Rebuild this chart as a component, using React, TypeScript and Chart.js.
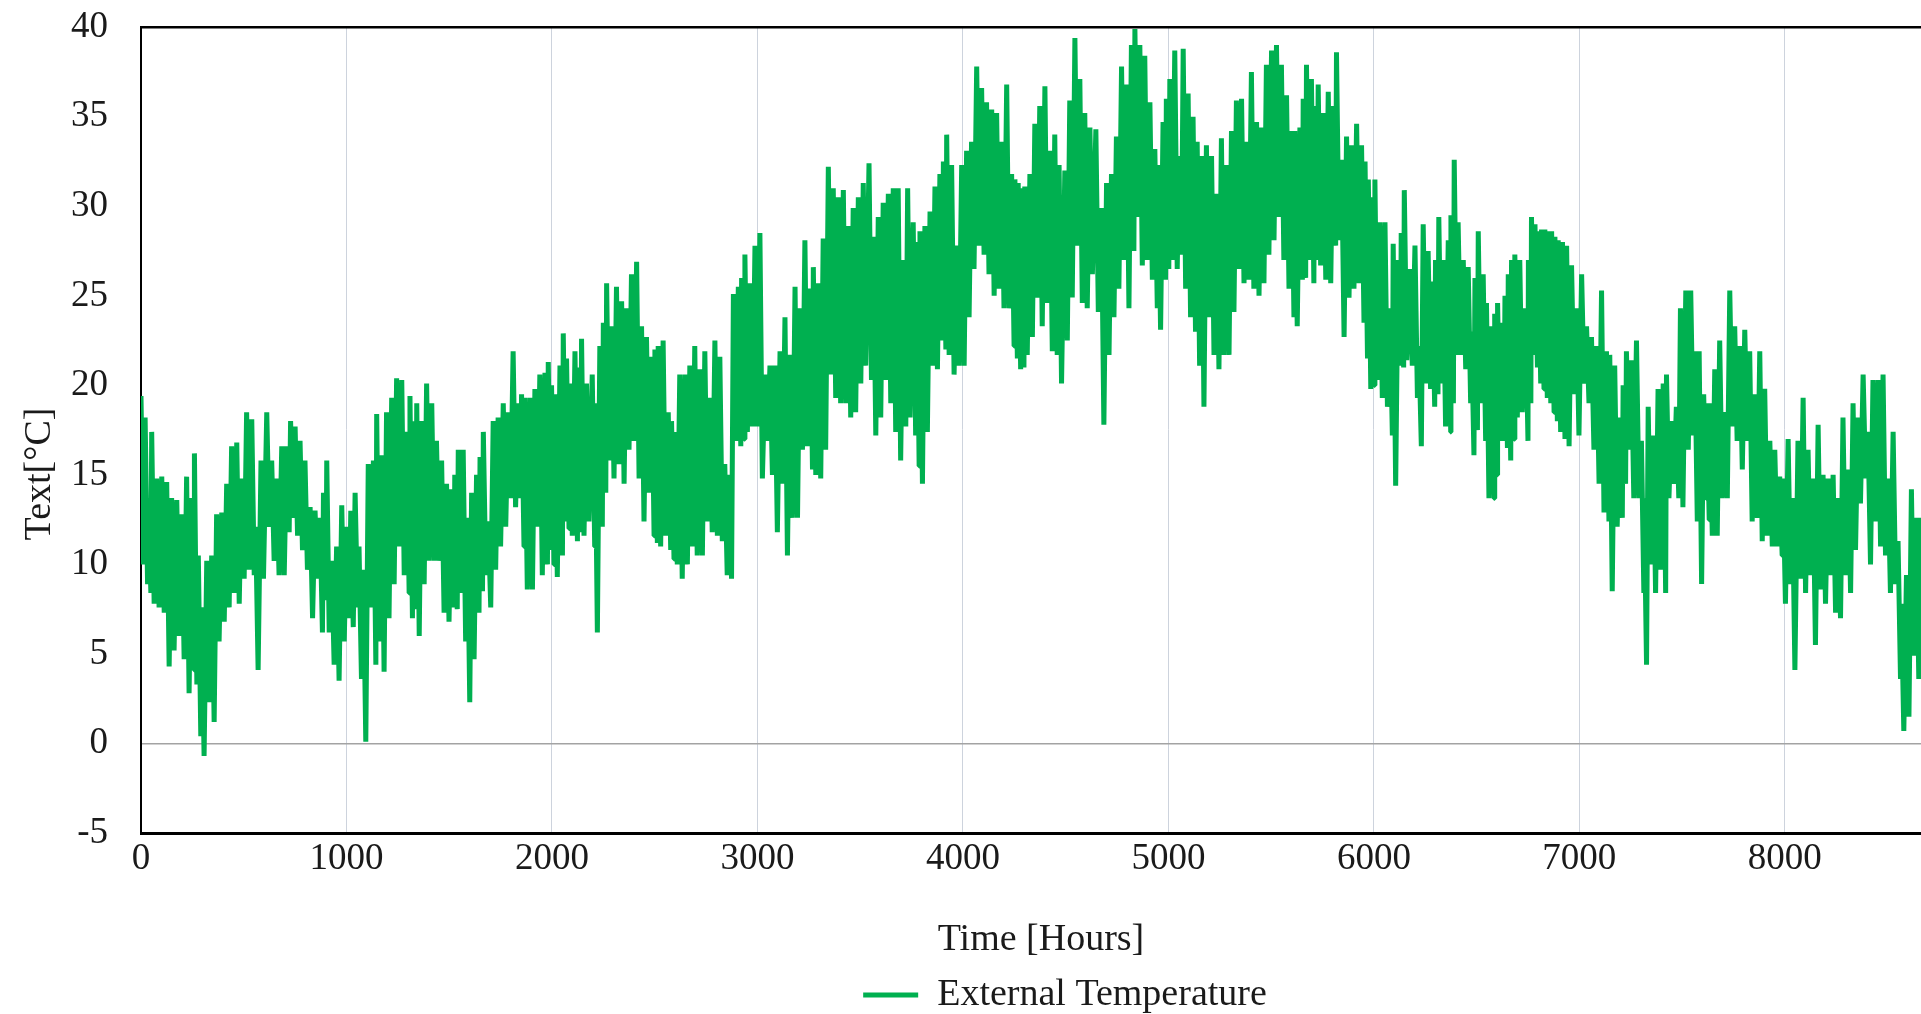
import React, { useEffect, useRef } from 'react';
import { Chart, registerables } from 'chart.js';

Chart.register(...registerables);

const hours = [
  0, 20, 36, 52, 76, 101, 125, 149, 174, 198, 222, 247, 260, 279, 295, 320, 344, 368, 393, 417,
  441, 466, 490, 514, 539, 558, 584, 612, 636, 660, 685, 709, 728, 750, 774, 798, 823, 847, 871, 888,
  904, 928, 952, 977, 1001, 1021, 1042, 1061, 1082, 1106, 1131, 1147, 1171, 1195, 1220, 1244, 1269, 1293, 1309, 1325,
  1342, 1366, 1390, 1415, 1438, 1463, 1487, 1511, 1527, 1544, 1568, 1588, 1609, 1633, 1650, 1666, 1690, 1714, 1738, 1763,
  1787, 1811, 1836, 1852, 1868, 1893, 1917, 1941, 1966, 1982, 1998, 2014, 2039, 2055, 2071, 2087, 2112, 2128, 2144, 2168,
  2196, 2209, 2233, 2250, 2266, 2290, 2314, 2339, 2363, 2387, 2412, 2436, 2460, 2485, 2501, 2517, 2541, 2566, 2582, 2598,
  2622, 2647, 2671, 2695, 2720, 2744, 2768, 2793, 2817, 2841, 2862, 2883, 2907, 2923, 2939, 2964, 2988, 3012, 3037, 3061,
  3085, 3110, 3134, 3158, 3183, 3207, 3231, 3256, 3272, 3296, 3320, 3345, 3369, 3393, 3418, 3442, 3466, 3491, 3515, 3543,
  3564, 3588, 3612, 3637, 3661, 3685, 3710, 3731, 3758, 3775, 3791, 3815, 3840, 3864, 3888, 3905, 3921, 3945, 3969, 3994,
  4018, 4042, 4067, 4091, 4115, 4140, 4164, 4188, 4213, 4237, 4253, 4269, 4285, 4301, 4326, 4350, 4374, 4399, 4423, 4447,
  4468, 4496, 4520, 4545, 4569, 4593, 4618, 4647, 4674, 4699, 4723, 4747, 4772, 4796, 4820, 4837, 4861, 4885, 4910, 4934,
  4950, 4974, 4990, 5007, 5031, 5052, 5072, 5096, 5120, 5140, 5161, 5185, 5210, 5234, 5258, 5283, 5307, 5331, 5356, 5380,
  5404, 5429, 5453, 5477, 5502, 5526, 5550, 5575, 5599, 5615, 5640, 5656, 5672, 5696, 5712, 5729, 5754, 5778, 5802, 5818,
  5843, 5867, 5891, 5916, 5940, 5957, 5973, 5989, 6005, 6029, 6054, 6078, 6094, 6118, 6133, 6148, 6175, 6200, 6219, 6240,
  6264, 6284, 6300, 6316, 6337, 6362, 6375, 6391, 6410, 6435, 6459, 6475, 6492, 6508, 6532, 6548, 6573, 6588, 6602, 6621,
  6638, 6654, 6670, 6686, 6710, 6738, 6752, 6767, 6784, 6800, 6816, 6832, 6849, 6865, 6881, 6897, 6918, 6938, 6962, 6986,
  7011, 7035, 7059, 7084, 7108, 7132, 7148, 7172, 7197, 7213, 7229, 7253, 7278, 7302, 7315, 7335, 7359, 7383, 7408, 7424,
  7448, 7472, 7492, 7518, 7542, 7562, 7583, 7605, 7620, 7635, 7659, 7683, 7708, 7732, 7756, 7781, 7805, 7829, 7854, 7878,
  7902, 7927, 7951, 7975, 7991, 8016, 8037, 8064, 8089, 8113, 8137, 8162, 8186, 8210, 8235, 8259, 8283, 8308, 8332, 8356,
  8381, 8405, 8429, 8454, 8478, 8502, 8527, 8551, 8567, 8592, 8616, 8640, 8661,
];

// Daily peak temperature at each sample [°C]
const highs = [
  19.4, 18.2, 13.7, 17.4, 14.8, 14.9, 14.6, 13.7, 13.6, 12.8, 14.9, 13.7, 16.2, 10.5, 7.6, 10.2, 10.5, 12.8, 12.9, 14.5,
  16.6, 16.8, 14.8, 18.5, 18.1, 12.1, 15.8, 18.5, 15.8, 14.8, 16.6, 16.6, 18.0, 17.7, 16.9, 15.8, 13.2, 13.0, 12.6, 14.0,
  15.8, 10.2, 11.0, 13.3, 12.1, 13.0, 14.0, 11.0, 9.7, 15.6, 15.8, 18.4, 16.1, 18.5, 19.3, 20.4, 20.3, 17.4, 19.4, 18.0,
  19.0, 18.0, 20.1, 19.0, 16.9, 15.8, 14.5, 14.2, 15.0, 16.4, 16.4, 12.6, 14.0, 15.0, 16.0, 17.4, 12.4, 18.0, 18.2, 19.0,
  18.5, 21.9, 19.0, 19.5, 19.3, 19.3, 19.8, 20.6, 20.7, 21.3, 20.0, 19.5, 21.1, 22.9, 21.5, 20.1, 21.9, 21.0, 22.6, 20.1,
  20.6, 19.0, 22.2, 23.5, 25.7, 23.3, 25.5, 24.7, 24.3, 26.2, 26.9, 23.3, 22.7, 21.6, 22.0, 22.2, 22.5, 18.5, 18.0, 17.4,
  20.6, 20.6, 21.1, 22.2, 20.9, 21.9, 19.3, 22.5, 21.6, 15.6, 15.0, 25.1, 25.5, 26.0, 27.3, 25.7, 27.8, 28.5, 20.6, 21.1,
  21.1, 21.9, 23.8, 21.7, 25.5, 24.3, 28.1, 25.4, 26.6, 25.7, 28.2, 32.2, 31.0, 30.5, 30.9, 28.9, 29.9, 30.5, 31.3, 32.4,
  28.3, 29.4, 30.2, 30.7, 31.0, 31.0, 27.0, 31.0, 29.1, 28.0, 28.6, 28.9, 29.7, 31.1, 31.8, 32.5, 34.0, 32.3, 27.8, 32.3,
  33.1, 33.6, 37.8, 36.6, 35.8, 35.4, 35.2, 33.6, 36.8, 31.8, 31.5, 31.3, 31.0, 31.1, 31.8, 34.6, 35.6, 36.7, 33.1, 34.0,
  32.3, 32.0, 35.9, 39.4, 37.1, 35.2, 34.4, 34.3, 29.9, 31.3, 31.8, 33.9, 37.8, 36.8, 39.0, 39.9, 39.0, 38.4, 35.8, 33.2,
  32.3, 34.7, 36.0, 37.1, 38.7, 32.8, 38.8, 36.3, 35.0, 33.6, 32.8, 33.4, 32.8, 30.7, 33.8, 32.3, 34.2, 35.9, 36.0, 33.6,
  37.5, 34.7, 34.4, 37.9, 38.7, 39.0, 37.9, 36.2, 34.2, 34.2, 34.4, 36.0, 37.9, 37.1, 35.6, 36.8, 35.2, 36.4, 35.6, 38.6,
  32.6, 33.9, 33.4, 34.6, 33.4, 32.5, 31.5, 30.5, 31.5, 29.1, 29.1, 24.3, 27.9, 27.0, 28.5, 30.9, 26.5, 27.8, 22.2, 29.0,
  27.5, 25.8, 27.0, 29.4, 27.0, 28.1, 29.5, 32.6, 29.1, 27.0, 26.6, 23.0, 26.0, 28.6, 26.2, 24.6, 23.3, 24.0, 24.6, 23.5,
  25.0, 26.2, 27.0, 27.3, 27.0, 24.3, 27.0, 29.4, 29.0, 28.6, 28.7, 28.7, 28.6, 28.6, 28.3, 28.1, 28.0, 27.8, 26.7, 24.3,
  26.2, 23.3, 22.7, 22.2, 25.3, 21.9, 21.7, 21.1, 18.2, 20.0, 21.9, 21.4, 22.5, 16.9, 13.7, 18.8, 17.2, 19.8, 20.1, 20.6,
  18.0, 18.8, 24.3, 25.3, 25.3, 21.9, 21.9, 19.5, 19.0, 19.0, 20.9, 22.5, 18.5, 25.3, 23.3, 22.2, 23.1, 21.9, 19.5, 21.9,
  19.8, 16.9, 16.4, 14.9, 14.8, 17.0, 13.7, 16.9, 19.3, 16.4, 14.8, 17.8, 15.0, 14.8, 15.0, 13.7, 18.2, 15.3, 19.0, 18.2,
  20.6, 17.4, 20.3, 20.3, 20.6, 14.8, 17.4, 11.3, 7.8, 9.4, 14.2, 12.6, 12.6,
];

// Daily low temperature half a day after each sample [°C]
const lows = [
  10.0, 8.9, 8.4, 7.8, 7.6, 7.3, 4.3, 5.2, 6.0, 4.7, 2.8, 4.1, 3.3, 0.4, -0.7, 2.3, 1.2, 5.7, 6.8, 7.6,
  8.4, 7.8, 9.2, 9.7, 9.4, 4.1, 9.2, 12.1, 10.2, 9.4, 9.4, 11.8, 12.6, 11.6, 10.8, 9.7, 7.0, 9.2, 6.2, 8.0,
  6.2, 4.4, 3.5, 5.7, 7.0, 6.5, 7.6, 3.6, 0.1, 7.6, 4.4, 5.7, 4.0, 7.0, 8.9, 11.0, 9.4, 8.4, 7.0, 7.5,
  6.0, 8.9, 10.2, 10.2, 10.2, 7.3, 6.8, 7.6, 7.5, 8.4, 5.7, 2.3, 4.7, 7.3, 8.5, 9.4, 7.6, 9.7, 11.0, 12.1,
  13.7, 13.2, 13.7, 11.0, 8.6, 8.6, 12.1, 9.4, 10.0, 10.8, 10.0, 9.3, 10.5, 12.4, 12.0, 11.6, 11.3, 11.8, 11.6, 12.4,
  11.0, 6.2, 12.1, 14.0, 15.8, 14.8, 15.6, 14.5, 16.4, 16.9, 14.8, 12.4, 14.0, 11.6, 11.2, 11.0, 11.6, 10.8, 10.3, 10.0,
  9.2, 10.0, 11.0, 10.5, 10.5, 12.4, 11.8, 11.6, 11.3, 9.4, 9.2, 16.9, 16.6, 17.0, 17.4, 17.7, 17.7, 14.8, 16.9, 15.0,
  11.8, 14.5, 10.5, 12.6, 12.6, 16.4, 16.6, 15.3, 15.0, 14.8, 16.4, 20.6, 19.3, 19.0, 19.0, 18.2, 18.5, 20.1, 21.1, 20.3,
  17.2, 18.2, 20.3, 19.0, 17.4, 15.8, 17.7, 18.2, 17.2, 15.5, 14.5, 17.4, 21.1, 20.9, 22.5, 22.0, 21.7, 20.6, 21.1, 21.1,
  23.8, 26.5, 27.8, 27.3, 26.2, 25.0, 25.4, 24.3, 24.3, 22.2, 21.5, 20.9, 21.0, 21.7, 22.7, 24.9, 23.3, 24.6, 21.9, 21.7,
  20.1, 22.5, 24.9, 27.8, 24.6, 24.3, 26.2, 24.1, 17.8, 21.7, 23.8, 25.4, 27.0, 24.3, 27.5, 29.4, 26.7, 27.0, 25.9, 24.3,
  23.1, 25.9, 26.5, 27.0, 26.5, 27.3, 25.4, 23.8, 23.0, 21.1, 18.8, 23.8, 21.7, 20.9, 21.7, 21.7, 24.1, 26.5, 25.7, 25.9,
  25.4, 25.0, 25.7, 27.3, 28.1, 29.4, 27.0, 25.4, 23.8, 23.3, 25.9, 26.0, 27.0, 25.7, 27.0, 26.7, 25.9, 25.7, 27.8, 28.1,
  22.7, 24.9, 25.4, 25.7, 23.5, 21.5, 19.8, 20.0, 20.3, 19.3, 18.8, 17.2, 14.4, 21.1, 21.0, 21.4, 21.1, 19.3, 16.6, 20.1,
  19.8, 18.8, 19.5, 20.1, 17.7, 17.4, 19.0, 21.7, 21.7, 20.9, 19.0, 16.1, 17.5, 19.0, 16.9, 13.7, 13.7, 15.0, 16.9, 16.9,
  16.5, 15.8, 17.0, 18.2, 18.5, 16.9, 19.0, 21.7, 21.0, 20.1, 19.8, 19.3, 19.0, 18.5, 18.0, 17.4, 17.0, 16.6, 19.5, 17.2,
  20.1, 19.0, 16.4, 14.5, 12.9, 12.4, 8.5, 12.1, 12.6, 14.5, 16.4, 13.7, 13.7, 8.4, 4.4, 10.0, 8.4, 9.7, 8.4, 13.7,
  14.5, 13.7, 13.2, 16.4, 17.2, 12.4, 8.9, 13.7, 12.5, 11.6, 11.6, 13.7, 13.7, 17.7, 16.9, 15.3, 16.9, 12.4, 12.6, 11.3,
  11.6, 11.0, 11.0, 10.5, 7.8, 8.9, 4.1, 9.2, 8.4, 9.4, 5.5, 8.6, 7.8, 9.4, 7.3, 7.0, 9.4, 8.4, 10.8, 13.4,
  14.8, 10.0, 12.4, 11.0, 10.5, 8.4, 8.9, 3.6, 0.7, 1.5, 4.9, 3.6, 8.4,
];

const xTickValues = [0, 1000, 2000, 3000, 4000, 5000, 6000, 7000, 8000];
const yTickValues = [-5, 0, 5, 10, 15, 20, 25, 30, 35, 40];

const SERIES_LABEL = 'External Temperature';
const X_TITLE = 'Time [Hours]';
const Y_TITLE = 'Text[°C]';

const FONT_FAMILY = '"Liberation Serif", "Times New Roman", serif';
const TEXT_COLOR = '#1a1a1a';
const LINE_COLOR = '#00B050';

const framePlugin = {
  id: 'frameAndYTitle',
  afterDraw(chart: any) {
    const { ctx, chartArea } = chart;
    ctx.save();
    ctx.strokeStyle = '#000';
    ctx.lineWidth = 2.5;
    ctx.beginPath();
    ctx.moveTo(chartArea.left - 1, chartArea.top);
    ctx.lineTo(chartArea.right, chartArea.top);
    ctx.stroke();
    ctx.translate(40, 474);
    ctx.rotate(-Math.PI / 2);
    ctx.font = `38px ${FONT_FAMILY}`;
    ctx.fillStyle = TEXT_COLOR;
    ctx.textAlign = 'center';
    ctx.textBaseline = 'middle';
    ctx.fillText(Y_TITLE, 0, 0);
    ctx.restore();
  },
};

export default function App() {
  const canvasRef = useRef<HTMLCanvasElement | null>(null);

  useEffect(() => {
    if (!canvasRef.current) return;
    const points = hours.flatMap((h, i) => [
      { x: h, y: highs[i] },
      { x: h + 12, y: lows[i] },
    ]);
    const chart = new Chart(canvasRef.current, {
      type: 'line',
      data: {
        datasets: [
          {
            label: SERIES_LABEL,
            data: points,
            borderColor: LINE_COLOR,
            backgroundColor: LINE_COLOR,
            borderWidth: 5,
            borderJoinStyle: 'bevel',
            pointRadius: 0,
            tension: 0,
            fill: false,
          },
        ],
      },
      options: {
        animation: false,
        responsive: false,
        devicePixelRatio: 1,
        layout: { padding: { top: 0, left: 0, right: 0, bottom: -10 } },
        plugins: {
          legend: {
            position: 'bottom',
            labels: {
              usePointStyle: true,
              pointStyle: 'line',
              pointStyleWidth: 55,
              padding: 10,
              color: TEXT_COLOR,
              font: { family: FONT_FAMILY, size: 38 },
            },
          },
          tooltip: { enabled: false },
        },
        scales: {
          x: {
            type: 'linear',
            min: 0,
            max: 8760,
            afterBuildTicks: (s: any) => {
              s.ticks = xTickValues.map((v) => ({ value: v }));
            },
            afterFit: (s: any) => {
              s.height = 133;
            },
            ticks: {
              padding: 4,
              autoSkip: false,
              maxRotation: 0,
              color: TEXT_COLOR,
              font: { family: FONT_FAMILY, size: 37 },
              callback: (v: any) => String(v),
            },
            grid: {
              drawTicks: false,
              lineWidth: 1,
              color: (c: any) => (c.tick && c.tick.value === 0 ? 'rgba(0,0,0,0)' : '#cdd3dd'),
            },
            border: { color: '#000', width: 3 },
            title: {
              display: true,
              text: X_TITLE,
              color: TEXT_COLOR,
              font: { family: FONT_FAMILY, size: 38 },
              padding: { top: 0, bottom: 3 },
            },
          },
          y: {
            type: 'linear',
            min: -5,
            max: 40,
            afterBuildTicks: (s: any) => {
              s.ticks = yTickValues.map((v) => ({ value: v }));
            },
            afterFit: (s: any) => {
              s.width = 141;
            },
            ticks: {
              padding: 5,
              color: TEXT_COLOR,
              font: { family: FONT_FAMILY, size: 37 },
              callback: (v: any) => String(v),
            },
            grid: {
              drawTicks: true,
              tickLength: 28,
              tickColor: 'rgba(0,0,0,0)',
              lineWidth: 1.5,
              color: (c: any) => (c.tick && c.tick.value === 0 ? '#a3a3a3' : 'rgba(0,0,0,0)'),
            },
            border: { color: '#000', width: 2 },
          },
          yPad: {
            type: 'linear',
            axis: 'y',
            position: 'right',
            display: true,
            grid: { display: false, drawTicks: false },
            ticks: { display: false },
            border: { display: false },
            afterFit: (s: any) => {
              s.width = 189;
            },
          },
        },
      },
      plugins: [framePlugin],
    } as any);
    return () => chart.destroy();
  }, []);

  return (
    <div
      style={{
        position: 'fixed',
        left: 0,
        top: 0,
        width: '100vw',
        height: '100vh',
        overflow: 'hidden',
        background: '#fff',
      }}
    >
      <canvas ref={canvasRef} width={2130} height={1014} style={{ display: 'block' }} />
    </div>
  );
}
